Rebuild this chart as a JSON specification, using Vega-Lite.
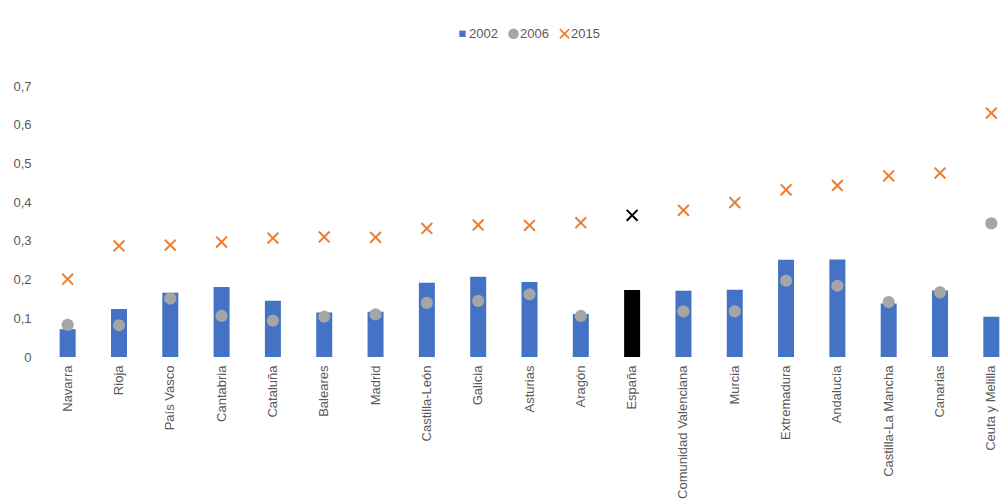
{
  "$schema": "https://vega.github.io/schema/vega-lite/v6.json",
  "autosize": "none",
  "width": 958,
  "height": 271,
  "padding": {"left": 42, "top": 86, "right": 0, "bottom": 146},
  "config": {
    "view": {"stroke": null},
    "font": "Liberation Sans",
    "axis": {"labelColor": "#595959", "labelFontSize": 13, "labelFont": "Liberation Sans", "grid": false, "domain": false, "ticks": false, "title": null},
    "legend": {"labelColor": "#595959", "labelFontSize": 13, "labelFont": "Liberation Sans"}
  },
  "data": {
    "values": [
      {"region": "Navarra", "2002": 0.072, "2006": 0.083, "2015": 0.201},
      {"region": "Rioja", "2002": 0.124, "2006": 0.082, "2015": 0.287},
      {"region": "País Vasco", "2002": 0.166, "2006": 0.151, "2015": 0.289},
      {"region": "Cantabria", "2002": 0.181, "2006": 0.106, "2015": 0.297},
      {"region": "Cataluña", "2002": 0.145, "2006": 0.094, "2015": 0.307},
      {"region": "Baleares", "2002": 0.115, "2006": 0.104, "2015": 0.310},
      {"region": "Madrid", "2002": 0.117, "2006": 0.110, "2015": 0.309},
      {"region": "Castilla-León", "2002": 0.192, "2006": 0.140, "2015": 0.332},
      {"region": "Galicia", "2002": 0.207, "2006": 0.145, "2015": 0.341},
      {"region": "Asturias", "2002": 0.194, "2006": 0.162, "2015": 0.340},
      {"region": "Aragón", "2002": 0.111, "2006": 0.106, "2015": 0.347},
      {"region": "España", "2002": 0.173, "2006": 0.133, "2015": 0.366},
      {"region": "Comunidad Valenciana", "2002": 0.171, "2006": 0.118, "2015": 0.379},
      {"region": "Murcia", "2002": 0.174, "2006": 0.118, "2015": 0.399},
      {"region": "Extremadura", "2002": 0.251, "2006": 0.197, "2015": 0.432},
      {"region": "Andalucía", "2002": 0.252, "2006": 0.184, "2015": 0.443},
      {"region": "Castilla-La Mancha", "2002": 0.138, "2006": 0.142, "2015": 0.468},
      {"region": "Canarias", "2002": 0.172, "2006": 0.167, "2015": 0.475},
      {"region": "Ceuta y Melilla", "2002": 0.104, "2006": 0.345, "2015": 0.630}
    ]
  },
  "transform": [{"fold": ["2002", "2006", "2015"], "as": ["year", "value"]}],
  "encoding": {
    "x": {
      "field": "region", "type": "nominal",
      "sort": ["Navarra", "Rioja", "País Vasco", "Cantabria", "Cataluña", "Baleares", "Madrid", "Castilla-León", "Galicia", "Asturias", "Aragón", "España", "Comunidad Valenciana", "Murcia", "Extremadura", "Andalucía", "Castilla-La Mancha", "Canarias", "Ceuta y Melilla"],
      "scale": {"paddingInner": 0, "paddingOuter": 0, "range": [0, 975]},
      "axis": {"labelAngle": -90, "labelPadding": 8, "labelLimit": 300}
    },
    "y": {
      "field": "value", "type": "quantitative",
      "scale": {"domain": [0, 0.7], "nice": false},
      "axis": {"values": [0, 0.1, 0.2, 0.3, 0.4, 0.5, 0.6, 0.7], "labelPadding": 11, "labelExpr": "datum.value == 0 ? '0' : replace(format(datum.value, '.1f'), '.', ',')"}
    },
    "color": {
      "condition": {"test": "datum.region === 'España'", "value": "#000000"},
      "field": "year", "type": "nominal",
      "scale": {"domain": ["2002", "2006", "2015"], "range": ["#4472C4", "#A5A5A5", "#ED7D31"]},
      "legend": {"title": null, "orient": "none", "direction": "horizontal", "legendX": 414, "legendY": -59, "symbolSize": 110, "labelOffset": 0, "columnPadding": 9}
    }
  },
  "layer": [
    {
      "transform": [{"filter": "datum.year === '2002'"}],
      "mark": {"type": "bar", "size": 16}
    },
    {
      "transform": [{"filter": "datum.year !== '2002'"}],
      "mark": {"type": "point", "filled": true, "opacity": 1, "size": 150},
      "encoding": {
        "shape": {
          "field": "year", "type": "nominal",
          "scale": {"domain": ["2002", "2006", "2015"], "range": ["M-0.6,-0.6L0.6,-0.6L0.6,0.6L-0.6,0.6Z", "circle", "M-0.77,-1L-1,-0.77L-0.23,0L-1,0.77L-0.77,1L0,0.23L0.77,1L1,0.77L0.23,0L1,-0.77L0.77,-1L0,-0.23Z"]}
        }
      }
    }
  ]
}
